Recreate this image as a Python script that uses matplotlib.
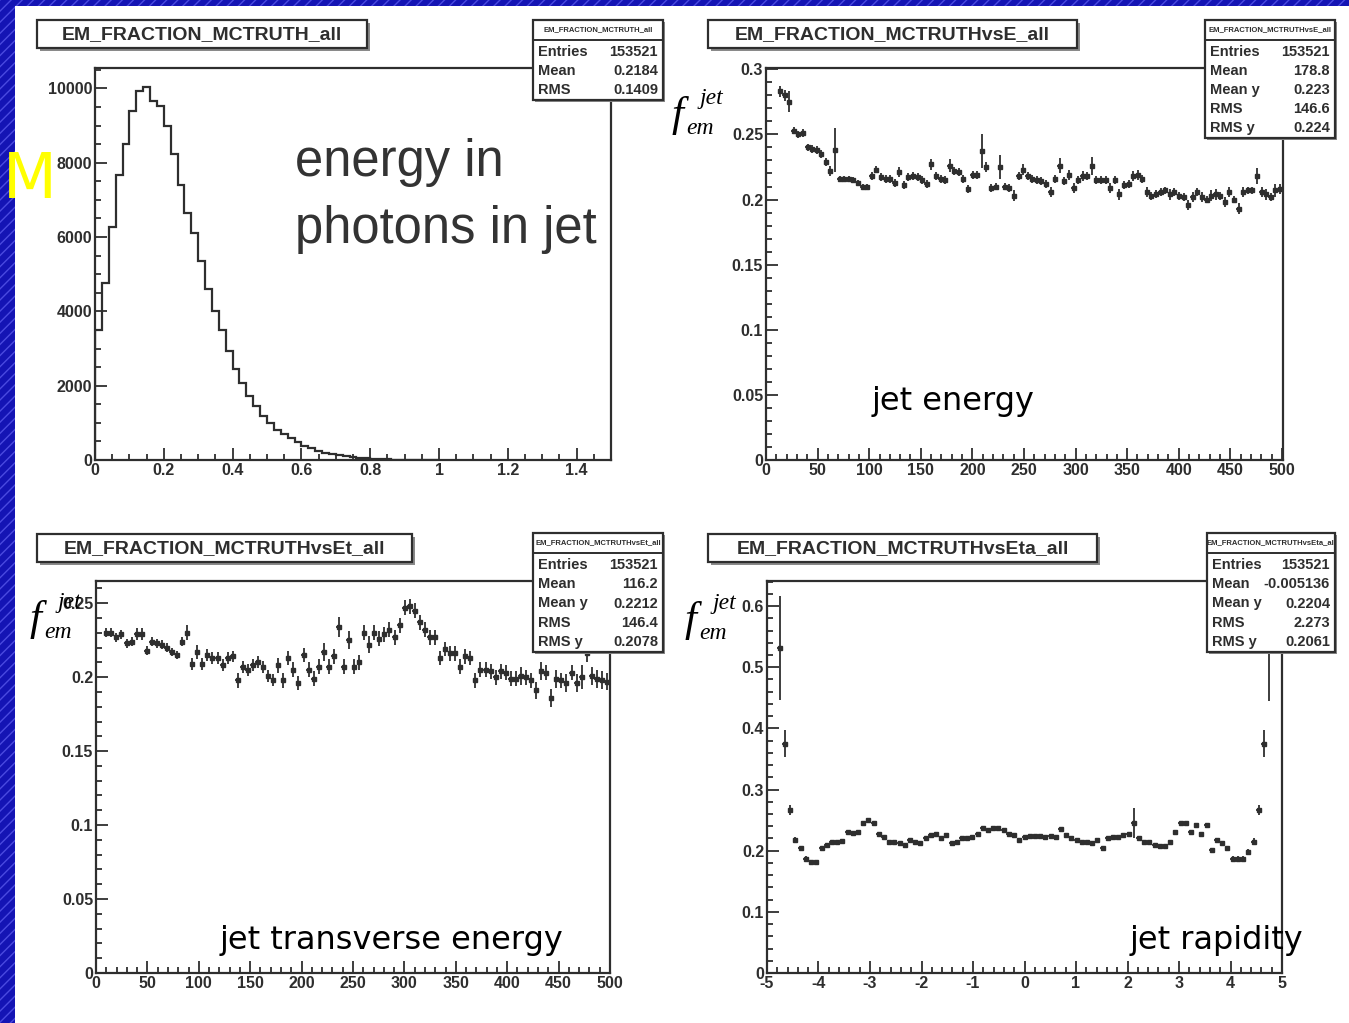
import numpy as np
import matplotlib
matplotlib.use('Agg')
import matplotlib.pyplot as plt
from matplotlib.patches import Rectangle
from matplotlib.ticker import MultipleLocator, FormatStrFormatter

W, H = 1349, 1023

# ---- panel 1: EM fraction histogram (0.02 wide bins from 0)
h1_counts = [3500, 4770, 6260, 7660, 8500, 9380, 9920, 10050, 9670, 9520,
             8980, 8230, 7410, 6650, 6110, 5350, 4590, 4000, 3490, 2930,
             2450, 2080, 1720, 1450, 1180, 990, 820, 700, 590, 480,
             390, 310, 250, 200, 170, 130, 100, 80, 60, 45,
             35, 25, 18, 12, 8, 5, 3, 2, 1, 1]
h1_binw = 0.02

# ---- panel 2: <f_em> vs jet energy
e_range = (13.6, 498.0)
e_mean = [0.283, 0.280, 0.275, 0.253, 0.250, 0.251, 0.240, 0.239, 0.238, 0.235,
          0.229, 0.222, 0.238, 0.216, 0.216, 0.216, 0.215, 0.213, 0.210, 0.210,
          0.218, 0.223, 0.217, 0.216, 0.216, 0.213, 0.221, 0.211, 0.217, 0.218,
          0.217, 0.215, 0.212, 0.227, 0.218, 0.216, 0.215, 0.226, 0.222, 0.221,
          0.216, 0.208, 0.219, 0.219, 0.237, 0.225, 0.209, 0.210, 0.225, 0.210,
          0.209, 0.203, 0.218,
          0.223, 0.218, 0.216, 0.215, 0.214, 0.212, 0.206, 0.216, 0.226, 0.214,
          0.219, 0.209, 0.215, 0.218, 0.218, 0.226, 0.215, 0.215, 0.215, 0.209,
          0.215, 0.204, 0.211, 0.212, 0.218, 0.219, 0.216, 0.206, 0.203, 0.204,
          0.206, 0.207, 0.204, 0.206, 0.203, 0.202, 0.196, 0.202, 0.206, 0.202,
          0.200, 0.203, 0.204, 0.203, 0.198, 0.206, 0.200, 0.193, 0.206, 0.207,
          0.207, 0.218, 0.206, 0.204, 0.202, 0.207, 0.208]
e_err = [0.004, 0.004, 0.008, 0.003, 0.003, 0.003, 0.003, 0.003, 0.003, 0.003,
         0.003, 0.004, 0.017, 0.002, 0.002, 0.002, 0.002, 0.002, 0.002, 0.002,
         0.003, 0.003, 0.003, 0.003, 0.003, 0.003, 0.004, 0.003, 0.003, 0.003,
         0.003, 0.003, 0.003, 0.004, 0.003, 0.003, 0.003, 0.005, 0.003, 0.003,
         0.003, 0.003, 0.003, 0.003, 0.013, 0.004, 0.003, 0.003, 0.009, 0.003,
         0.003, 0.004, 0.003,
         0.004, 0.003, 0.003, 0.003, 0.003, 0.003, 0.004, 0.003, 0.006, 0.003,
         0.004, 0.004, 0.003, 0.004, 0.003, 0.007, 0.003, 0.003, 0.003, 0.004,
         0.003, 0.004, 0.003, 0.003, 0.004, 0.004, 0.003, 0.004, 0.003, 0.003,
         0.003, 0.003, 0.004, 0.003, 0.003, 0.003, 0.004, 0.004, 0.003, 0.004,
         0.003, 0.004, 0.004, 0.003, 0.004, 0.004, 0.003, 0.004, 0.004, 0.003,
         0.003, 0.006, 0.004, 0.004, 0.003, 0.005, 0.004]

# ---- panel 3: <f_em> vs jet Et
et_range = (10.0, 497.0)
et_mean = [0.230, 0.230, 0.227, 0.229, 0.223, 0.224, 0.229, 0.229, 0.218, 0.224,
           0.223, 0.222, 0.220, 0.217, 0.215, 0.224, 0.230, 0.209, 0.217, 0.209,
           0.215, 0.213, 0.213, 0.208, 0.213, 0.214, 0.198, 0.207, 0.205, 0.208,
           0.210, 0.207, 0.201, 0.198, 0.208, 0.198, 0.213, 0.205, 0.196, 0.215,
           0.205, 0.199, 0.207, 0.217, 0.207, 0.214, 0.234, 0.207, 0.225, 0.207,
           0.210,
           0.230, 0.222, 0.230, 0.226, 0.229, 0.232, 0.227, 0.235, 0.247, 0.248,
           0.245, 0.237, 0.232, 0.227, 0.227, 0.213, 0.219, 0.216, 0.216, 0.207,
           0.214, 0.213, 0.198, 0.205, 0.205, 0.204, 0.200, 0.204, 0.203, 0.199,
           0.199, 0.201, 0.200, 0.198, 0.191, 0.204, 0.203, 0.186, 0.199, 0.198,
           0.196, 0.203, 0.196, 0.200, 0.216, 0.201, 0.199, 0.198, 0.197]
et_err = [0.003, 0.003, 0.003, 0.003, 0.003, 0.003, 0.004, 0.004, 0.003, 0.003,
          0.003, 0.003, 0.003, 0.003, 0.003, 0.003, 0.005, 0.004, 0.005, 0.004,
          0.004, 0.004, 0.004, 0.004, 0.004, 0.004, 0.005, 0.004, 0.004, 0.004,
          0.004, 0.004, 0.004, 0.004, 0.005, 0.005, 0.005, 0.005, 0.005, 0.005,
          0.005, 0.005, 0.005, 0.006, 0.005, 0.005, 0.007, 0.005, 0.006, 0.005,
          0.005,
          0.005, 0.006, 0.005, 0.005, 0.005, 0.005, 0.005, 0.005, 0.005, 0.005,
          0.005, 0.005, 0.005, 0.005, 0.005, 0.005, 0.005, 0.005, 0.005, 0.005,
          0.005, 0.005, 0.005, 0.005, 0.005, 0.005, 0.005, 0.005, 0.005, 0.005,
          0.005, 0.006, 0.005, 0.005, 0.006, 0.006, 0.005, 0.006, 0.006, 0.005,
          0.006, 0.005, 0.006, 0.008, 0.006, 0.006, 0.006, 0.006, 0.006]

# ---- panel 4: <f_em> vs jet rapidity
eta_range = (-4.75, 4.75)
eta_mean = [0.531, 0.375, 0.266, 0.217, 0.204, 0.187, 0.182, 0.182, 0.204, 0.209,
            0.215, 0.215, 0.216, 0.231, 0.229, 0.231, 0.245, 0.250, 0.245, 0.228,
            0.223, 0.215, 0.215, 0.213, 0.209, 0.217, 0.215, 0.212, 0.220, 0.226,
            0.228, 0.220, 0.226, 0.212, 0.215, 0.220, 0.220, 0.223, 0.228, 0.237,
            0.234, 0.237, 0.237, 0.234, 0.228, 0.226, 0.217, 0.223, 0.224, 0.224,
            0.224, 0.223, 0.224, 0.223, 0.235, 0.226, 0.220, 0.217, 0.215, 0.215,
            0.212, 0.218, 0.204, 0.220, 0.223, 0.223, 0.226, 0.228, 0.245, 0.220,
            0.215, 0.215, 0.209, 0.207, 0.207, 0.215, 0.231, 0.245, 0.245, 0.231,
            0.242, 0.228, 0.242, 0.201, 0.217, 0.212, 0.204, 0.187, 0.187, 0.187,
            0.198, 0.215, 0.266, 0.375, 0.530]
eta_err = [0.085, 0.022, 0.008, 0.005, 0.004, 0.004, 0.003, 0.003, 0.003, 0.003,
           0.003, 0.003, 0.003, 0.003, 0.003, 0.003, 0.003, 0.003, 0.003, 0.003,
           0.002, 0.002, 0.002, 0.002, 0.002, 0.002, 0.002, 0.002, 0.002, 0.002,
           0.002, 0.002, 0.002, 0.002, 0.002, 0.002, 0.002, 0.002, 0.002, 0.002,
           0.002, 0.002, 0.002, 0.002, 0.002, 0.002, 0.002, 0.002, 0.002, 0.002,
           0.002, 0.002, 0.002, 0.002, 0.002, 0.002, 0.002, 0.002, 0.002, 0.002,
           0.002, 0.002, 0.002, 0.002, 0.002, 0.002, 0.002, 0.002, 0.025, 0.002,
           0.002, 0.002, 0.002, 0.002, 0.002, 0.002, 0.003, 0.003, 0.003, 0.003,
           0.003, 0.003, 0.003, 0.003, 0.003, 0.003, 0.003, 0.004, 0.004, 0.004,
           0.005, 0.005, 0.008, 0.022, 0.085]

titles = ['EM_FRACTION_MCTRUTH_all', 'EM_FRACTION_MCTRUTHvsE_all',
          'EM_FRACTION_MCTRUTHvsEt_all', 'EM_FRACTION_MCTRUTHvsEta_all']
stats = [
    [('Entries', '153521'), ('Mean', '0.2184'), ('RMS', '0.1409')],
    [('Entries', '153521'), ('Mean', '178.8'), ('Mean y', '0.223'),
     ('RMS', '146.6'), ('RMS y', '0.224')],
    [('Entries', '153521'), ('Mean', '116.2'), ('Mean y', '0.2212'),
     ('RMS', '146.4'), ('RMS y', '0.2078')],
    [('Entries', '153521'), ('Mean', '-0.005136'), ('Mean y', '0.2204'),
     ('RMS', '2.273'), ('RMS y', '0.2061')],
]

plt.rcParams['font.family'] = ['Liberation Sans', 'DejaVu Sans']
plt.rcParams['font.weight'] = 'bold'
INK = '#2e2e2e'

fig = plt.figure(figsize=(W / 100, H / 100), dpi=100)
fig.patch.set_facecolor('white')


def fx(x):
    return x / W


def fy(y):
    return 1 - y / H


def box(x0, y0, x1, y1, **kw):
    r = Rectangle((fx(x0), fy(y1)), (x1 - x0) / W, (y1 - y0) / H,
                  transform=fig.transFigure, **kw)
    fig.add_artist(r)
    return r


def make_axes(l, t, r, b):
    ax = fig.add_axes([fx(l), fy(b), (r - l) / W, (b - t) / H])
    for s in ax.spines.values():
        s.set_color(INK)
        s.set_linewidth(1.6)
    ax.tick_params(which='both', direction='in', top=False, right=False,
                   colors=INK, labelsize=11.5, width=1.3)
    ax.tick_params(which='major', length=8.5, pad=2)
    ax.tick_params(which='minor', length=4.3)
    ax.xaxis.set_major_formatter(FormatStrFormatter('%g'))
    ax.yaxis.set_major_formatter(FormatStrFormatter('%g'))
    return ax


# panel 1
ax1 = make_axes(95, 68, 611, 460)
edges1 = np.arange(len(h1_counts) + 1) * h1_binw
ax1.stairs(h1_counts, edges1, color=INK, lw=1.6)
ax1.set_xlim(0, 1.5)
ax1.set_ylim(0, 10550)
ax1.xaxis.set_major_locator(MultipleLocator(0.2))
ax1.xaxis.set_minor_locator(MultipleLocator(0.05))
ax1.yaxis.set_major_locator(MultipleLocator(2000))
ax1.yaxis.set_minor_locator(MultipleLocator(500))


def profile(ax, rng, ymean, yerr):
    x = np.linspace(rng[0], rng[1], len(ymean))
    hw = (x[1] - x[0]) / 2
    ax.errorbar(x, ymean, xerr=hw, yerr=yerr, fmt='s', ms=2.2, color=INK,
                elinewidth=1.3, capsize=0, zorder=3)


ax2 = make_axes(766, 68, 1283, 460)
profile(ax2, e_range, e_mean, e_err)
ax2.set_xlim(0, 501)
ax2.set_ylim(0, 0.301)

ax3 = make_axes(96, 581, 610, 973)
profile(ax3, et_range, et_mean, et_err)
ax3.set_xlim(0, 500)
ax3.set_ylim(0, 0.265)

for ax in (ax2, ax3):
    ax.xaxis.set_major_locator(MultipleLocator(50))
    ax.xaxis.set_minor_locator(MultipleLocator(10))
    ax.yaxis.set_major_locator(MultipleLocator(0.05))
    ax.yaxis.set_minor_locator(MultipleLocator(0.01))

ax4 = make_axes(767, 581, 1282, 973)
profile(ax4, eta_range, eta_mean, eta_err)
ax4.set_xlim(-5, 5)
ax4.set_ylim(0, 0.641)
ax4.xaxis.set_major_locator(MultipleLocator(1))
ax4.xaxis.set_minor_locator(MultipleLocator(0.2))
ax4.yaxis.set_major_locator(MultipleLocator(0.1))
ax4.yaxis.set_minor_locator(MultipleLocator(0.02))

# ROOT style title boxes
tboxes = [(37, 20, 367, 48), (708, 20, 1077, 48), (37, 534, 412, 562), (708, 534, 1097, 562)]
for (x0, y0, x1, y1), t in zip(tboxes, titles):
    box(x0 + 3, y0 + 3, x1 + 3, y1 + 3, facecolor='#8a8a8a', edgecolor='none', zorder=5)
    box(x0, y0, x1, y1, facecolor='white', edgecolor=INK, lw=1.6, zorder=6)
    fig.text(fx((x0 + x1) / 2), fy((y0 + y1) / 2 + 1), t, ha='center', va='center',
             fontsize=14, color=INK, zorder=7)

# stats boxes
sboxes = [(533, 20, 663, 100), (1205, 20, 1335, 138), (533, 533, 663, 652), (1207, 533, 1335, 652)]
for (x0, y0, x1, y1), rows, t in zip(sboxes, stats, titles):
    box(x0 + 2, y0 + 2, x1 + 2, y1 + 2, facecolor='#8a8a8a', edgecolor='none', zorder=8)
    box(x0, y0, x1, y1, facecolor='white', edgecolor=INK, lw=1.6, zorder=9)
    fig.add_artist(plt.Line2D([fx(x0), fx(x1)], [fy(y0 + 20), fy(y0 + 20)],
                              transform=fig.transFigure, color=INK, lw=1.4, zorder=10))
    fig.text(fx((x0 + x1) / 2), fy(y0 + 10), t, ha='center', va='center',
             fontsize=5.5, color=INK, zorder=10)
    step = (y1 - y0 - 22) / len(rows)
    for i, (k, v) in enumerate(rows):
        yy = y0 + 22 + step * (i + 0.5)
        fig.text(fx(x0 + 5), fy(yy), k, ha='left', va='center', fontsize=10.5,
                 color=INK, zorder=10)
        fig.text(fx(x1 - 5), fy(yy), v, ha='right', va='center', fontsize=10.5,
                 color=INK, zorder=10)

# annotations
fig.text(fx(295), fy(176), 'energy in', fontsize=36.5, color='#333333',
         fontweight='normal', va='baseline')
fig.text(fx(295), fy(243), 'photons in jet', fontsize=36.5, color='#333333',
         fontweight='normal', va='baseline')
for x, y, s in [(872, 410, 'jet energy'), (220, 949, 'jet transverse energy'),
                (1130, 949, 'jet rapidity')]:
    fig.text(fx(x), fy(y), s, fontsize=23, color='black', family='DejaVu Sans',
             fontweight='normal', va='baseline', zorder=12)

for fxp, fb in [(672, 126), (30, 630), (685, 631)]:
    fig.text(fx(fxp), fy(fb), 'f', fontsize=31, family='Liberation Serif',
             style='italic', fontweight='normal', va='baseline', zorder=12)
    fig.text(fx(fxp + 28), fy(fb - 22), 'jet', fontsize=17, family='Liberation Serif',
             style='italic', fontweight='normal', va='baseline', zorder=12)
    fig.text(fx(fxp + 14), fy(fb + 8), 'em', fontsize=17, family='Liberation Serif',
             style='italic', fontweight='normal', va='baseline', zorder=12)

# slide background bits: blue frame and stray yellow letter
box(0, 0, W, 6, facecolor='#1414b4', edgecolor='#4a4ae0', hatch='///', lw=0, zorder=20)
box(0, 0, 15, H, facecolor='#1414b4', edgecolor='#4a4ae0', hatch='///', lw=0, zorder=20)
fig.text(fx(3), fy(198), 'M', fontsize=45, color='#ffff00', family='DejaVu Sans',
         fontweight='normal', va='baseline', zorder=21)

fig.savefig('out.png', dpi=100)
